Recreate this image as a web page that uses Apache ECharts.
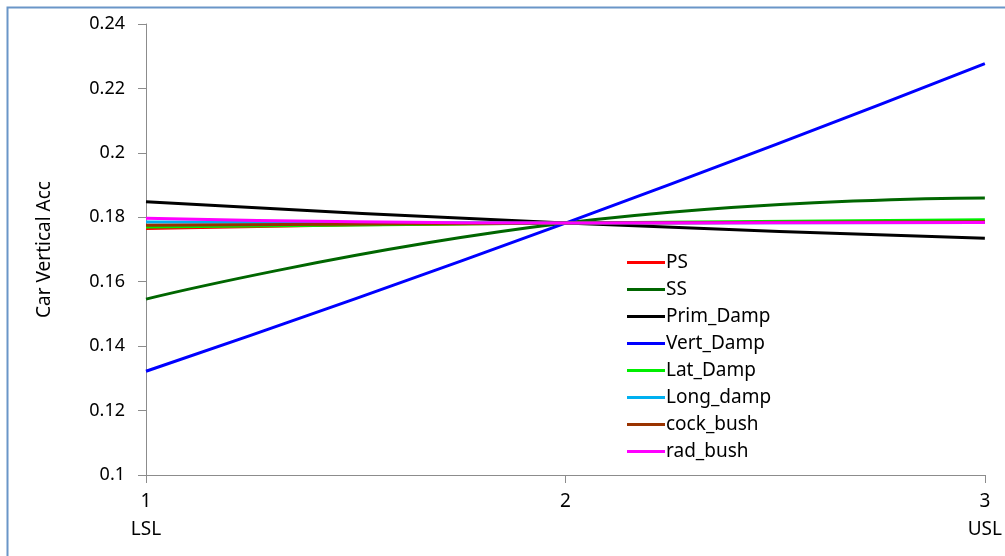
<!DOCTYPE html>
<html>
<head>
<meta charset="utf-8">
<script src="https://cdn.jsdelivr.net/npm/echarts@6/dist/echarts.min.js"></script>
<style>
html,body{margin:0;padding:0;background:#fff;}
#chart{width:1005px;height:556px;}
</style>
</head>
<body>
<div id="chart"></div>
<script>
const xValues = [1, 2, 3];
const xTickLabels = {1: '1\nLSL', 2: '2', 3: '3\nUSL'};
const seriesNames = ['PS', 'SS', 'Prim_Damp', 'Vert_Damp', 'Lat_Damp', 'Long_damp', 'cock_bush', 'rad_bush'];
const seriesColors = ['#ff0000', '#006600', '#000000', '#0000ff', '#00ee00', '#00b0f0', '#993300', '#ff00ff'];
const PS = [0.1765, 0.1782, 0.1785];
const SS = [0.1546, 0.1782, 0.1860];
const Prim_Damp = [0.1848, 0.1782, 0.1735];
const Vert_Damp = [0.1322, 0.1782, 0.2277];
const Lat_Damp = [0.1770, 0.1782, 0.1792];
const Long_damp = [0.1785, 0.1782, 0.1784];
const cock_bush = [0.1775, 0.1782, 0.1786];
const rad_bush = [0.1797, 0.1782, 0.1784];
const seriesValues = [PS, SS, Prim_Damp, Vert_Damp, Lat_Damp, Long_damp, cock_bush, rad_bush];

const chart = echarts.init(document.getElementById('chart'));
const font = '"Noto Sans", sans-serif';
chart.setOption({
  animation: false,
  backgroundColor: '#fff',
  textStyle: {fontFamily: font},
  graphic: [{
    type: 'rect',
    shape: {x: 7.5, y: 7.5, width: 1100, height: 700},
    style: {fill: 'none', stroke: '#6a96c8', lineWidth: 2},
    silent: true
  }],
  grid: {left: 146, right: 17, top: 24, bottom: 81},
  xAxis: {
    type: 'value', min: 1, max: 3, interval: 1,
    axisLine: {show: true, lineStyle: {color: '#8c8c8c', width: 1}},
    axisTick: {show: true, length: 8, lineStyle: {color: '#8c8c8c'}},
    splitLine: {show: false},
    axisLabel: {
      color: '#000', fontSize: 19, fontFamily: font, margin: 13, lineHeight: 28,
      formatter: v => xTickLabels[v] || ''
    }
  },
  yAxis: {
    type: 'value', min: 0.1, max: 0.24, interval: 0.02,
    name: 'Car Vertical Acc', nameLocation: 'middle', nameGap: 92, nameRotate: 90,
    nameTextStyle: {color: '#000', fontSize: 19, fontFamily: font},
    axisLine: {show: true, lineStyle: {color: '#8c8c8c', width: 1}},
    axisTick: {show: true, length: 8, lineStyle: {color: '#8c8c8c'}},
    splitLine: {show: false},
    axisLabel: {color: '#000', fontSize: 18, fontFamily: font, margin: 21,
      formatter: v => String(+v.toFixed(2))}
  },
  legend: {
    orient: 'vertical', left: 622, top: 248,
    itemWidth: 38, itemHeight: 3, itemGap: 8, icon: 'rect',
    textStyle: {color: '#000', fontSize: 19, fontFamily: font, padding: [0, 0, 0, -4]},
    data: seriesNames
  },
  series: seriesNames.map((n, i) => ({
    name: n, type: 'line', smooth: true, showSymbol: false, symbol: 'none',
    data: xValues.map((x, j) => [x, seriesValues[i][j]]),
    lineStyle: {color: seriesColors[i], width: 3},
    itemStyle: {color: seriesColors[i]}
  }))
});
</script>
</body>
</html>
